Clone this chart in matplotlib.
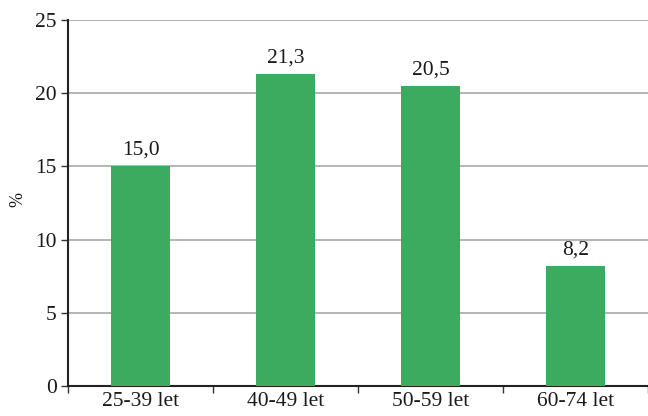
import numpy as np
import matplotlib.pyplot as plt
from matplotlib.ticker import FixedLocator

categories = ['25-39 let', '40-49 let', '50-59 let', '60-74 let']
values = [15.0, 21.3, 20.5, 8.2]
yticks = [0, 5, 10, 15, 20, 25]

plt.rcParams['font.family'] = ['Liberation Serif', 'DejaVu Serif']

fig = plt.figure(figsize=(6.48, 4.16), dpi=100)
ax = fig.add_axes([0.105, 0.072, 0.895, 0.88])

x = np.arange(len(categories))
bars = ax.bar(x, values, width=0.41, color='#3dab5f', zorder=3)

for b, v in zip(bars, values):
    ax.text(b.get_x() + b.get_width() / 2, v + 0.45, f'{v:.1f}'.replace('.', ','),
            ha='center', va='bottom', fontsize=15.5, color='#1a1a1a')

ax.set_xlim(-0.5, len(categories) - 0.5)
ax.set_ylim(0, 25)
ax.set_yticks(yticks)
ax.set_xticks(x)
ax.set_xticklabels(categories)
ax.xaxis.set_minor_locator(FixedLocator(np.arange(len(categories) + 1) - 0.5))
ax.tick_params(axis='x', which='major', length=0, labelsize=15.5, pad=4, colors='#1a1a1a')
ax.tick_params(axis='x', which='minor', length=5, width=1, color='#333333')
ax.tick_params(axis='y', length=5, width=1, labelsize=15.5, pad=3, colors='#1a1a1a')
ax.tick_params(axis='y', color='#333333')

ax.grid(axis='y', color='#a8a8a8', linewidth=1.2, zorder=0)
for s in ['top', 'right']:
    ax.spines[s].set_visible(False)
for s in ['left', 'bottom']:
    ax.spines[s].set_linewidth(1.5)
    ax.spines[s].set_color('#222222')

fig.text(0.028, 0.52, '%', rotation=90, ha='center', va='center', fontsize=13, color='#1a1a1a')

fig.savefig('out.png', dpi=100)
